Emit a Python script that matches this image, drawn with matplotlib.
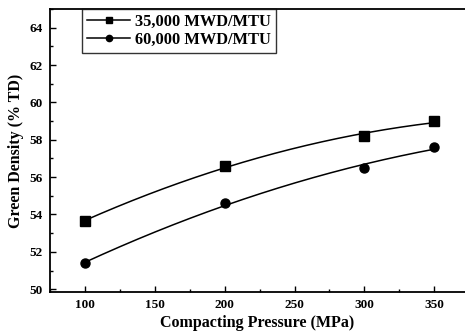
import numpy as np
import matplotlib.pyplot as plt
from matplotlib.ticker import MultipleLocator

pressure = [100, 200, 300, 350]
dens_35k = [53.65, 56.6, 58.2, 59.0]
dens_60k = [51.4, 54.6, 56.5, 57.6]
labels = ["35,000 MWD/MTU", "60,000 MWD/MTU"]

plt.rcParams['font.family'] = ['Liberation Serif', 'DejaVu Serif']
plt.rcParams['font.weight'] = 'bold'

fig = plt.figure(figsize=(4.65, 3.36), dpi=100)
ax = fig.add_axes([0.1075, 0.131, 0.8925, 0.842])

xs = np.linspace(min(pressure), max(pressure), 200)
for ys, m, lab in [(dens_35k, 's', labels[0]), (dens_60k, 'o', labels[1])]:
    # smooth fitted curve through the points, as in the original
    c = np.polyfit(pressure, ys, 2)
    ax.plot(xs, np.polyval(c, xs), color='black', lw=1.1)
    ax.plot(pressure, ys, m, color='black', ms=6.5)
    ax.plot([], [], '-', marker=m, color='black', lw=1.1, ms=4.5, label=lab)

ax.set_xlim(75, 372)
ax.set_ylim(49.85, 65)
ax.xaxis.set_major_locator(MultipleLocator(50))
ax.xaxis.set_minor_locator(MultipleLocator(25))
ax.yaxis.set_major_locator(MultipleLocator(2))
ax.yaxis.set_minor_locator(MultipleLocator(1))
ax.tick_params(which='both', direction='in', labelsize=9.5, width=1)
ax.tick_params(which='major', length=4, pad=5)
ax.tick_params(which='minor', length=2.5)
for lab in ax.get_xticklabels() + ax.get_yticklabels():
    lab.set_fontweight('bold')
ax.spines['right'].set_visible(False)
for s in ['left', 'bottom', 'top']:
    ax.spines[s].set_linewidth(1.3)

ax.set_xlabel("Compacting Pressure (MPa)", fontsize=11.5, fontweight='bold', labelpad=3)
ax.set_ylabel("Green Density (% TD)", fontsize=11.5, fontweight='bold', labelpad=4)

leg = ax.legend(loc='upper left', bbox_to_anchor=(0.078, 1.0), frameon=True,
                fancybox=False, edgecolor='black', fontsize=11.8,
                handlelength=2.6, borderpad=0.3, labelspacing=0.1,
                handletextpad=0.3, borderaxespad=0)
leg.get_frame().set_linewidth(1.0)
for t in leg.get_texts():
    t.set_fontweight('bold')

fig.savefig("out.png", dpi=100)
